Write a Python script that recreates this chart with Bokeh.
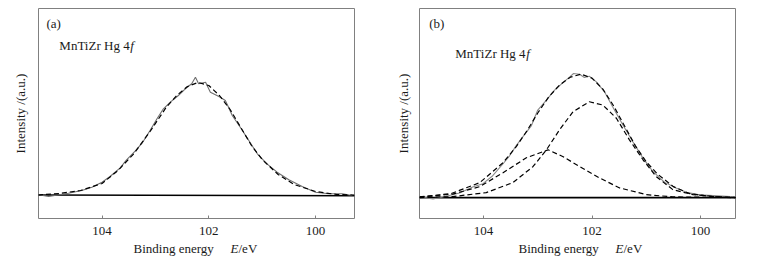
from bokeh.plotting import figure
from bokeh.models import Range1d, FixedTicker, Label
from bokeh.layouts import row, column
from bokeh.core.properties import value
from bokeh.embed import file_html
from bokeh.resources import INLINE

# ---------------- data ----------------
# panel (a): measured spectrum
a_meas_E = [105.19, 105.00, 104.63, 104.38, 104.19, 104.00, 103.85, 103.66, 103.54,
            103.38, 103.25, 103.10, 102.97, 102.85, 102.72, 102.57, 102.44, 102.32,
            102.25, 102.19, 102.06, 101.97, 101.81, 101.69, 101.63, 101.56, 101.41,
            101.25, 101.09, 100.91, 100.72, 100.50, 100.25, 100.00, 99.75, 99.50, 99.31]
a_meas_I = [0.7, -1.0, 2.3, 5.0, 8.3, 13.3, 19.0, 27.7, 35.7,
            44.3, 52.3, 65.0, 76.7, 86.7, 93.3, 100.0, 106.7, 111.7,
            118.3, 111.7, 113.3, 103.3, 99.0, 95.0, 88.3, 80.0, 68.3,
            55.0, 41.7, 31.7, 23.3, 15.7, 9.0, 3.3, 1.7, 1.7, 0.0]
# panel (a): fitted envelope
a_fit_E = [105.2, 104.8, 104.4, 104.0, 103.7, 103.4, 103.1, 102.8, 102.6, 102.4, 102.2,
           102.0, 101.8, 101.6, 101.4, 101.2, 101.0, 100.7, 100.4, 100.0, 99.6, 99.27]
a_fit_I = [0.5, 2, 5, 12, 25, 42, 64, 88, 100, 109, 113,
           110, 100, 86, 68, 50, 36, 21, 11, 4, 1, 0.5]
# panel (a): background
a_bg_E = [105.19, 99.27]
a_bg_I = [0.5, -0.3]

# panel (b): measured spectrum
b_meas_E = [105.18, 104.93, 104.69, 104.44, 104.20, 104.01, 103.83, 103.64, 103.52,
            103.40, 103.28, 103.12, 103.00, 102.84, 102.69, 102.54, 102.41, 102.34,
            102.23, 102.14, 102.05, 101.92, 101.77, 101.62, 101.43, 101.25, 101.06,
            100.88, 100.66, 100.45, 100.26, 100.02, 99.77, 99.37]
b_meas_I = [0.7, -1.3, 1.3, 4.7, 10.7, 14.0, 22.0, 34.0, 42.0,
            52.0, 60.7, 72.0, 88.0, 98.0, 108.0, 115.3, 121.3, 124.7,
            124.0, 120.7, 122.0, 116.3, 106.3, 91.3, 73.0, 56.3, 39.7,
            26.3, 15.3, 9.7, 5.3, 2.7, 2.0, 0.7]
# panel (b): fitted envelope
b_fit_E = [105.18, 104.6, 104.07, 103.64, 103.4, 103.2, 103.0, 102.8, 102.6, 102.4, 102.2,
           102.0, 101.8, 101.6, 101.4, 101.2, 101.0, 100.8, 100.5, 100.2, 99.8, 99.35]
b_fit_I = [0.7, 4, 15, 35, 51, 67, 85, 101, 113, 121, 124,
           120, 109, 92, 72, 52, 36, 24, 11, 4, 1, 0.3]
# panel (b): component 1 (lower binding energy)
b_c1_E = [105.18, 104.57, 103.95, 103.46, 103.09, 102.84, 102.60, 102.35, 102.05,
          101.80, 101.55, 101.31, 101.06, 100.82, 100.51, 100.14, 99.65, 99.35]
b_c1_I = [0.0, 1.0, 5.0, 15.0, 31.0, 48.0, 68.0, 86.3, 96.3,
          93.0, 79.7, 58.0, 38.0, 21.3, 8.0, 3.0, 0.7, 0.0]
# panel (b): component 2 (higher binding energy)
b_c2_E = [105.18, 104.57, 104.07, 103.64, 103.21, 102.81, 102.54, 102.23, 101.86,
          101.49, 101.00, 100.51, 99.35]
b_c2_I = [0.5, 3.5, 11.0, 25.0, 40.0, 48.0, 41.3, 31.3, 19.7,
          9.7, 3.0, 0.7, 0.0]
b_bg_E = [105.18, 99.35]
b_bg_I = [0.0, 0.0]

ticks = [104, 102, 100]
panel_tags = ["(a)", "(b)"]
sample_text = "MnTiZr Hg 4"
sample_italic = "f"
y_label = "Intensity /(a.u.)"
x_label = "Binding energy"
x_label_italic = "E"
x_label_unit = "/eV"

SERIF = "Liberation Serif"
TXT = "#1a1a1a"
FRAME = "#808080"
MAIN_H = 242
STRIP_H = 259 - MAIN_H


def lab(p, x, y, text, italic=False, x_offset=0):
    p.add_layout(Label(x=x, y=y, x_offset=x_offset, text=text, text_font=SERIF,
                       text_font_style="italic" if italic else "normal",
                       text_font_size="13px", text_color=TXT,
                       text_baseline="middle", text_align="left"))


def make_panel(xr, yr, border_left, border_right, border_bottom, tag, tag_pos,
               sample_pos, ylab_standoff):
    p = figure(width=380, height=MAIN_H, output_backend="svg", toolbar_location=None,
               x_range=Range1d(*xr), y_range=Range1d(*yr),
               min_border_left=border_left, min_border_right=border_right,
               min_border_top=8, min_border_bottom=border_bottom)
    p.background_fill_color = "white"
    p.border_fill_color = "white"
    p.outline_line_color = FRAME
    p.outline_line_width = 1
    p.grid.visible = False

    ya = p.yaxis[0]
    ya.ticker = FixedTicker(ticks=[])
    ya.axis_line_color = None
    ya.major_tick_line_color = None
    ya.minor_tick_line_color = None
    ya.major_label_text_font_size = "0px"
    ya.axis_label = y_label
    ya.axis_label_text_font = SERIF
    ya.axis_label_text_font_style = "normal"
    ya.axis_label_text_font_size = "13px"
    ya.axis_label_text_color = TXT
    ya.axis_label_standoff = ylab_standoff

    ax = p.xaxis[0]
    ax.ticker = FixedTicker(ticks=ticks)
    ax.axis_line_color = None
    ax.major_tick_in = 3
    ax.major_tick_out = 0
    ax.major_tick_line_color = FRAME
    ax.minor_tick_line_color = None
    ax.major_label_text_font = SERIF
    ax.major_label_text_font_size = "13px"
    ax.major_label_text_color = TXT
    ax.major_label_standoff = 8

    lab(p, tag_pos[0], tag_pos[1], tag)
    lab(p, sample_pos[0], sample_pos[1], sample_text)
    lab(p, sample_pos[0], sample_pos[1], sample_italic, italic=True, x_offset=71)
    return p


pa = make_panel((105.19, 99.27), (-23, 187), 38, 26, MAIN_H - 218, panel_tags[0],
                (105.04, 172), (104.80, 150), 11)
pa.line(a_bg_E, a_bg_I, line_color="black", line_width=1.6)
pa.line(a_meas_E, a_meas_I, line_color="#6e6e6e", line_width=1.1)
pa.line(a_fit_E, a_fit_I, line_color="black", line_width=1.2, line_dash="5 3")

pb = make_panel((105.18, 99.355), (-21, 190), 39, 25, MAIN_H - 219, panel_tags[1],
                (105.0, 175), (104.52, 145), 9)
pb.line(b_bg_E, b_bg_I, line_color="black", line_width=1.6)
pb.line(b_meas_E, b_meas_I, line_color="#8a8a8a", line_width=1.1)
pb.line(b_fit_E, b_fit_I, line_color="black", line_width=1.2, line_dash="5 3")
pb.line(b_c1_E, b_c1_I, line_color="black", line_width=1.2, line_dash="5 3")
pb.line(b_c2_E, b_c2_I, line_color="black", line_width=1.2, line_dash="5 3")

# strip under both panels carrying the x-axis titles (mixed upright / italic)
strip = figure(width=760, height=STRIP_H, output_backend="svg", toolbar_location=None,
               x_range=Range1d(0, 760), y_range=Range1d(STRIP_H, 0),
               min_border=0, x_axis_type=None, y_axis_type=None)
strip.outline_line_color = None
strip.grid.visible = False
ly = 248 - MAIN_H
for x0, xe in [(133, 230), (518, 615)]:
    strip.text(x=[x0], y=[ly], text=[x_label], text_font=value(SERIF),
               text_font_size="13px", text_color=TXT, text_baseline="middle",
               text_align="left")
    strip.text(x=[xe], y=[ly], text=[x_label_italic], text_font=value(SERIF),
               text_font_style="italic", text_font_size="13px", text_color=TXT,
               text_baseline="middle", text_align="left")
    strip.text(x=[xe + 8], y=[ly], text=[x_label_unit], text_font=value(SERIF),
               text_font_size="13px", text_color=TXT, text_baseline="middle",
               text_align="left")

layout = column(row(pa, pb), strip)
open("out.html", "w").write(file_html(layout, INLINE))
